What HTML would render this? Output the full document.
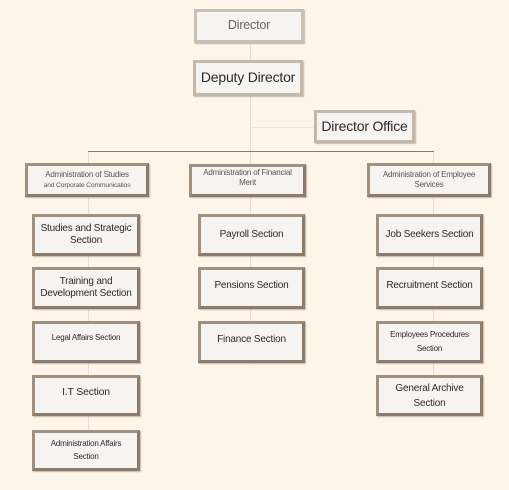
<!DOCTYPE html>
<html><head><meta charset="utf-8"><style>
html,body{margin:0;padding:0}
body{width:509px;height:490px;background:#fdf5ea;position:relative;overflow:hidden;font-family:"Liberation Sans",sans-serif}
.l{position:absolute;background:#e6dccf}
.b{position:absolute;box-sizing:border-box;background:#f6f4f1;border:3px solid #a09080;border-right-color:#8c7b6a;border-bottom-color:#8c7b6a;display:flex;align-items:center;justify-content:center;text-align:center;color:#2a2a2a;line-height:1.25;box-shadow:1px 1px 1px rgba(90,70,50,.35);white-space:nowrap;letter-spacing:-0.2px}
.s{font-size:10px}
.m{font-size:10.5px}
.h{font-size:8px;color:#555}
</style></head><body>
<div class="l" style="left:250px;top:42px;width:1px;height:322px"></div>
<div class="l" style="left:88px;top:151px;width:1px;height:280px"></div>
<div class="l" style="left:433px;top:151px;width:1px;height:225px"></div>
<div class="l" style="left:250px;top:127px;width:64px;height:1px;background:#f0e6da"></div>
<div class="l" style="left:88px;top:151px;width:346px;height:1px;background:#8a7a6a"></div>

<div class="b" style="left:194px;top:9px;width:110px;height:34px;border-color:#c9bfb3;color:#666;font-size:12.5px">Director</div>
<div class="b" style="left:193px;top:60px;width:110px;height:36px;border-color:#c4b8aa;font-size:14px">Deputy Director</div>
<div class="b" style="left:314px;top:110px;width:101px;height:33px;border-color:#c4b8aa;font-size:14px">Director Office</div>

<div class="b h" style="left:25px;top:163px;width:124px;height:34px"><div>Administration of Studies<br><span style="font-size:6.8px">and Corporate Communicatios</span></div></div>
<div class="b h" style="left:189px;top:164px;width:117px;height:33px;align-items:flex-start;padding-top:1px"><div>Administration of Financial<br>Merit</div></div>
<div class="b h" style="left:367px;top:163px;width:124px;height:34px"><div>Administration of Employee<br>Services</div></div>

<div class="b s" style="left:32px;top:214px;width:108px;height:42px"><div>Studies and Strategic<br>Section</div></div>
<div class="b m" style="left:32px;top:267px;width:108px;height:42px;font-size:10px"><div>Training and<br>Development Section</div></div>
<div class="b h" style="left:32px;top:321px;width:108px;height:42px;color:#2a2a2a;align-items:flex-start;padding-top:9px">Legal Affairs Section</div>
<div class="b m" style="left:32px;top:375px;width:108px;height:41px;align-items:flex-start;padding-top:8px">I.T Section</div>
<div class="b h" style="left:32px;top:430px;width:108px;height:41px;color:#2a2a2a;line-height:1.6"><div>Administration Affairs<br>Section</div></div>

<div class="b s" style="left:198px;top:214px;width:107px;height:42px">Payroll Section</div>
<div class="b s" style="left:198px;top:267px;width:107px;height:42px;align-items:flex-start;padding-top:10px">Pensions Section</div>
<div class="b s" style="left:198px;top:321px;width:107px;height:42px;align-items:flex-start;padding-top:10px">Finance Section</div>

<div class="b s" style="left:376px;top:214px;width:107px;height:42px">Job Seekers Section</div>
<div class="b s" style="left:376px;top:267px;width:107px;height:42px;align-items:flex-start;padding-top:10px">Recruitment Section</div>
<div class="b h" style="left:376px;top:321px;width:107px;height:42px;color:#2a2a2a;line-height:1.7"><div>Employees Procedures<br>Section</div></div>
<div class="b s" style="left:376px;top:375px;width:107px;height:41px;line-height:1.5"><div>General Archive<br>Section</div></div>
</body></html>
